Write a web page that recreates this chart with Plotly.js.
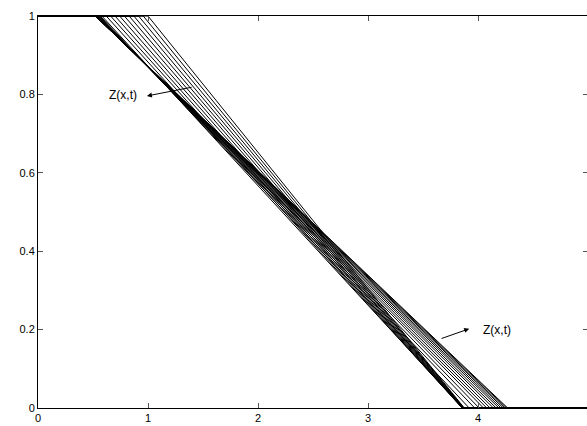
<!DOCTYPE html>
<html><head><meta charset="utf-8">
<script src="https://cdn.plot.ly/plotly-3.0.1.min.js"></script>
<style>html,body{margin:0;padding:0;overflow:hidden;background:#fff}</style>
</head><body><div id="chart"></div>
<script>
// Profiles Z(x,t): Z=1 up to topStart, linear to 0 at bottomEnd, then Z=0.
// Phase 1: upper front moves left (bottom end nearly fixed)
const phase1TopStart  = [1.000, 0.957, 0.914, 0.871, 0.828, 0.785, 0.742, 0.700, 0.660, 0.620];
const phase1BottomEnd = [3.875, 3.872, 3.869, 3.866, 3.863, 3.861, 3.859, 3.857, 3.856, 3.855];
// Phase 2: lower front moves right (top start nearly fixed)
const phase2TopStart  = [0.580, 0.565, 0.556, 0.549, 0.543, 0.538, 0.534, 0.530, 0.527, 0.525, 0.523, 0.522, 0.521, 0.520, 0.520];
const phase2BottomEnd = [3.860, 3.920, 3.970, 4.010, 4.050, 4.080, 4.110, 4.140, 4.165, 4.190, 4.210, 4.230, 4.245, 4.260, 4.270];
const xDomain = [0, 5];
const xTicks = [0, 1, 2, 3, 4, 5];
const yTicks = [0, 0.2, 0.4, 0.6, 0.8, 1];
const yTickText = ['0', '0.2', '0.4', '0.6', '0.8', '1'];
const labelText = 'Z(x,t)';

const topStart = phase1TopStart.concat(phase2TopStart);
const bottomEnd = phase1BottomEnd.concat(phase2BottomEnd);

const traces = topStart.map((s, i) => ({
  type: 'scatter', mode: 'lines',
  x: [xDomain[0], s, bottomEnd[i], xDomain[1]],
  y: [1, 1, 0, 0],
  line: {color: '#000', width: 1},
  hoverinfo: 'skip', showlegend: false
}));

const font = {family: 'Liberation Sans, Arial, sans-serif', size: 11, color: '#000'};
const labelFont = {family: 'Liberation Sans, Arial, sans-serif', size: 12, color: '#000'};
const axisCommon = {
  showgrid: false, zeroline: false, showline: true, linecolor: '#000', linewidth: 1,
  mirror: 'allticks', ticks: 'inside', ticklen: 5, tickcolor: '#555', tickwidth: 1,
  tickfont: font
};
const layout = {
  width: 588, height: 426,
  margin: {l: 38, r: 0, t: 16, b: 18},
  paper_bgcolor: '#fff', plot_bgcolor: '#fff',
  font: font,
  xaxis: Object.assign({}, axisCommon, {range: xDomain, tickvals: xTicks, ticktext: xTicks.map(String)}),
  yaxis: Object.assign({}, axisCommon, {range: [0, 1], tickvals: yTicks, ticktext: yTickText}),
  annotations: [
    {x: 0.77, y: 0.798, xref: 'x', yref: 'y', text: labelText, showarrow: false, font: labelFont},
    {x: 0.99, y: 0.796, ax: 1.41, ay: 0.819, xref: 'x', yref: 'y', axref: 'x', ayref: 'y',
     text: '', showarrow: true, arrowhead: 2, arrowsize: 1, arrowwidth: 1, arrowcolor: '#000'},
    {x: 4.17, y: 0.199, xref: 'x', yref: 'y', text: labelText, showarrow: false, font: labelFont},
    {x: 3.92, y: 0.202, ax: 3.655, ay: 0.176, xref: 'x', yref: 'y', axref: 'x', ayref: 'y',
     text: '', showarrow: true, arrowhead: 2, arrowsize: 1, arrowwidth: 1, arrowcolor: '#000'}
  ]
};
Plotly.newPlot('chart', traces, layout, {staticPlot: true, displayModeBar: false});
</script>
</body></html>
